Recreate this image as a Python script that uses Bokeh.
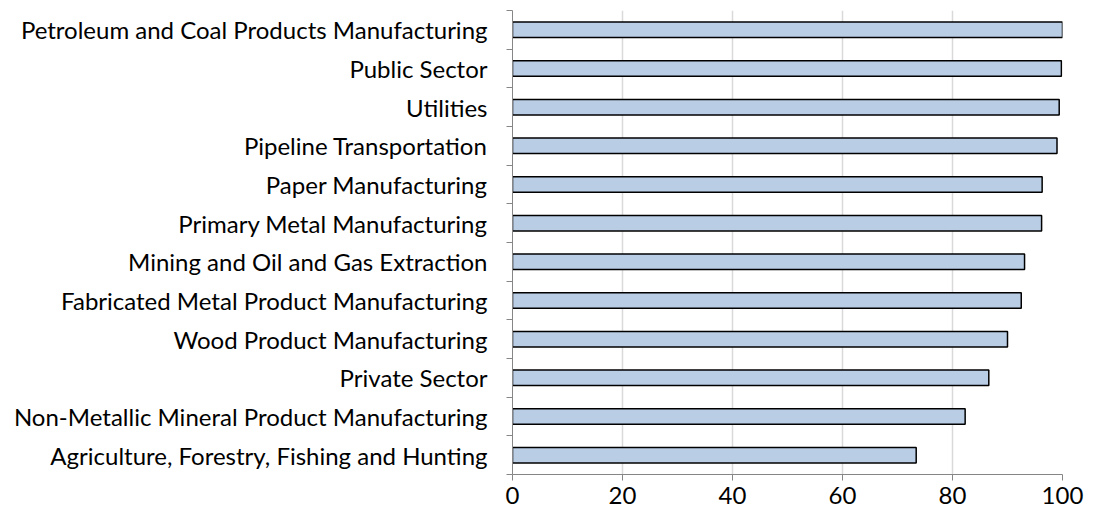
from bokeh.plotting import figure
from bokeh.models import FixedTicker, Range1d
from bokeh.embed import file_html
from bokeh.resources import INLINE

categories = [
    "Petroleum and Coal Products Manufacturing",
    "Public Sector",
    "Utilities",
    "Pipeline Transportation",
    "Paper Manufacturing",
    "Primary Metal Manufacturing",
    "Mining and Oil and Gas Extraction",
    "Fabricated Metal Product Manufacturing",
    "Wood Product Manufacturing",
    "Private Sector",
    "Non-Metallic Mineral Product Manufacturing",
    "Agriculture, Forestry, Fishing and Hunting",
]
values = [100.0, 99.8, 99.4, 99.0, 96.3, 96.2, 93.1, 92.5, 90.0, 86.6, 82.3, 73.4]
x_ticks = [0, 20, 40, 60, 80, 100]

n = len(categories)
ypos = [n - i - 0.5 for i in range(n)]

FONT = "Lato"
FSIZE = "24px"

p = figure(width=1085, height=511, output_backend="svg", toolbar_location=None,
           x_range=Range1d(0, 100), y_range=Range1d(0, n),
           min_border_left=512, min_border_right=23, min_border_top=10, min_border_bottom=37)
p.outline_line_color = None
p.background_fill_color = "white"

p.hbar(y=ypos, right=values, left=0, height=0.4, fill_color="#B9CDE5",
       line_color="black", line_width=1.5)

# x axis
p.xaxis.ticker = FixedTicker(ticks=x_ticks)
p.xaxis.axis_line_color = "#868686"
p.xaxis.major_tick_line_color = "#868686"
p.xaxis.major_tick_out = 6
p.xaxis.major_tick_in = 0
p.xaxis.minor_tick_line_color = None
p.xaxis.major_label_text_font = FONT
p.xaxis.major_label_text_font_size = FSIZE
p.xaxis.major_label_text_color = "black"
p.xaxis.major_label_standoff = 6

# y axis
p.yaxis.ticker = FixedTicker(ticks=ypos, minor_ticks=list(range(n + 1)))
p.yaxis.major_label_overrides = {y: c for y, c in zip(ypos, categories)}
p.yaxis.axis_line_color = "#868686"
p.yaxis.major_tick_line_color = None
p.yaxis.major_tick_out = 0
p.yaxis.major_tick_in = 0
p.yaxis.minor_tick_line_color = "#868686"
p.yaxis.minor_tick_out = 6
p.yaxis.minor_tick_in = 0
p.yaxis.major_label_text_font = FONT
p.yaxis.major_label_text_font_size = FSIZE
p.yaxis.major_label_text_color = "black"
p.yaxis.major_label_standoff = 19

p.xgrid.grid_line_color = "#D9D9D9"
p.xgrid.grid_line_width = 1.5
p.ygrid.grid_line_color = None

open("out.html", "w").write(file_html(p, INLINE))
